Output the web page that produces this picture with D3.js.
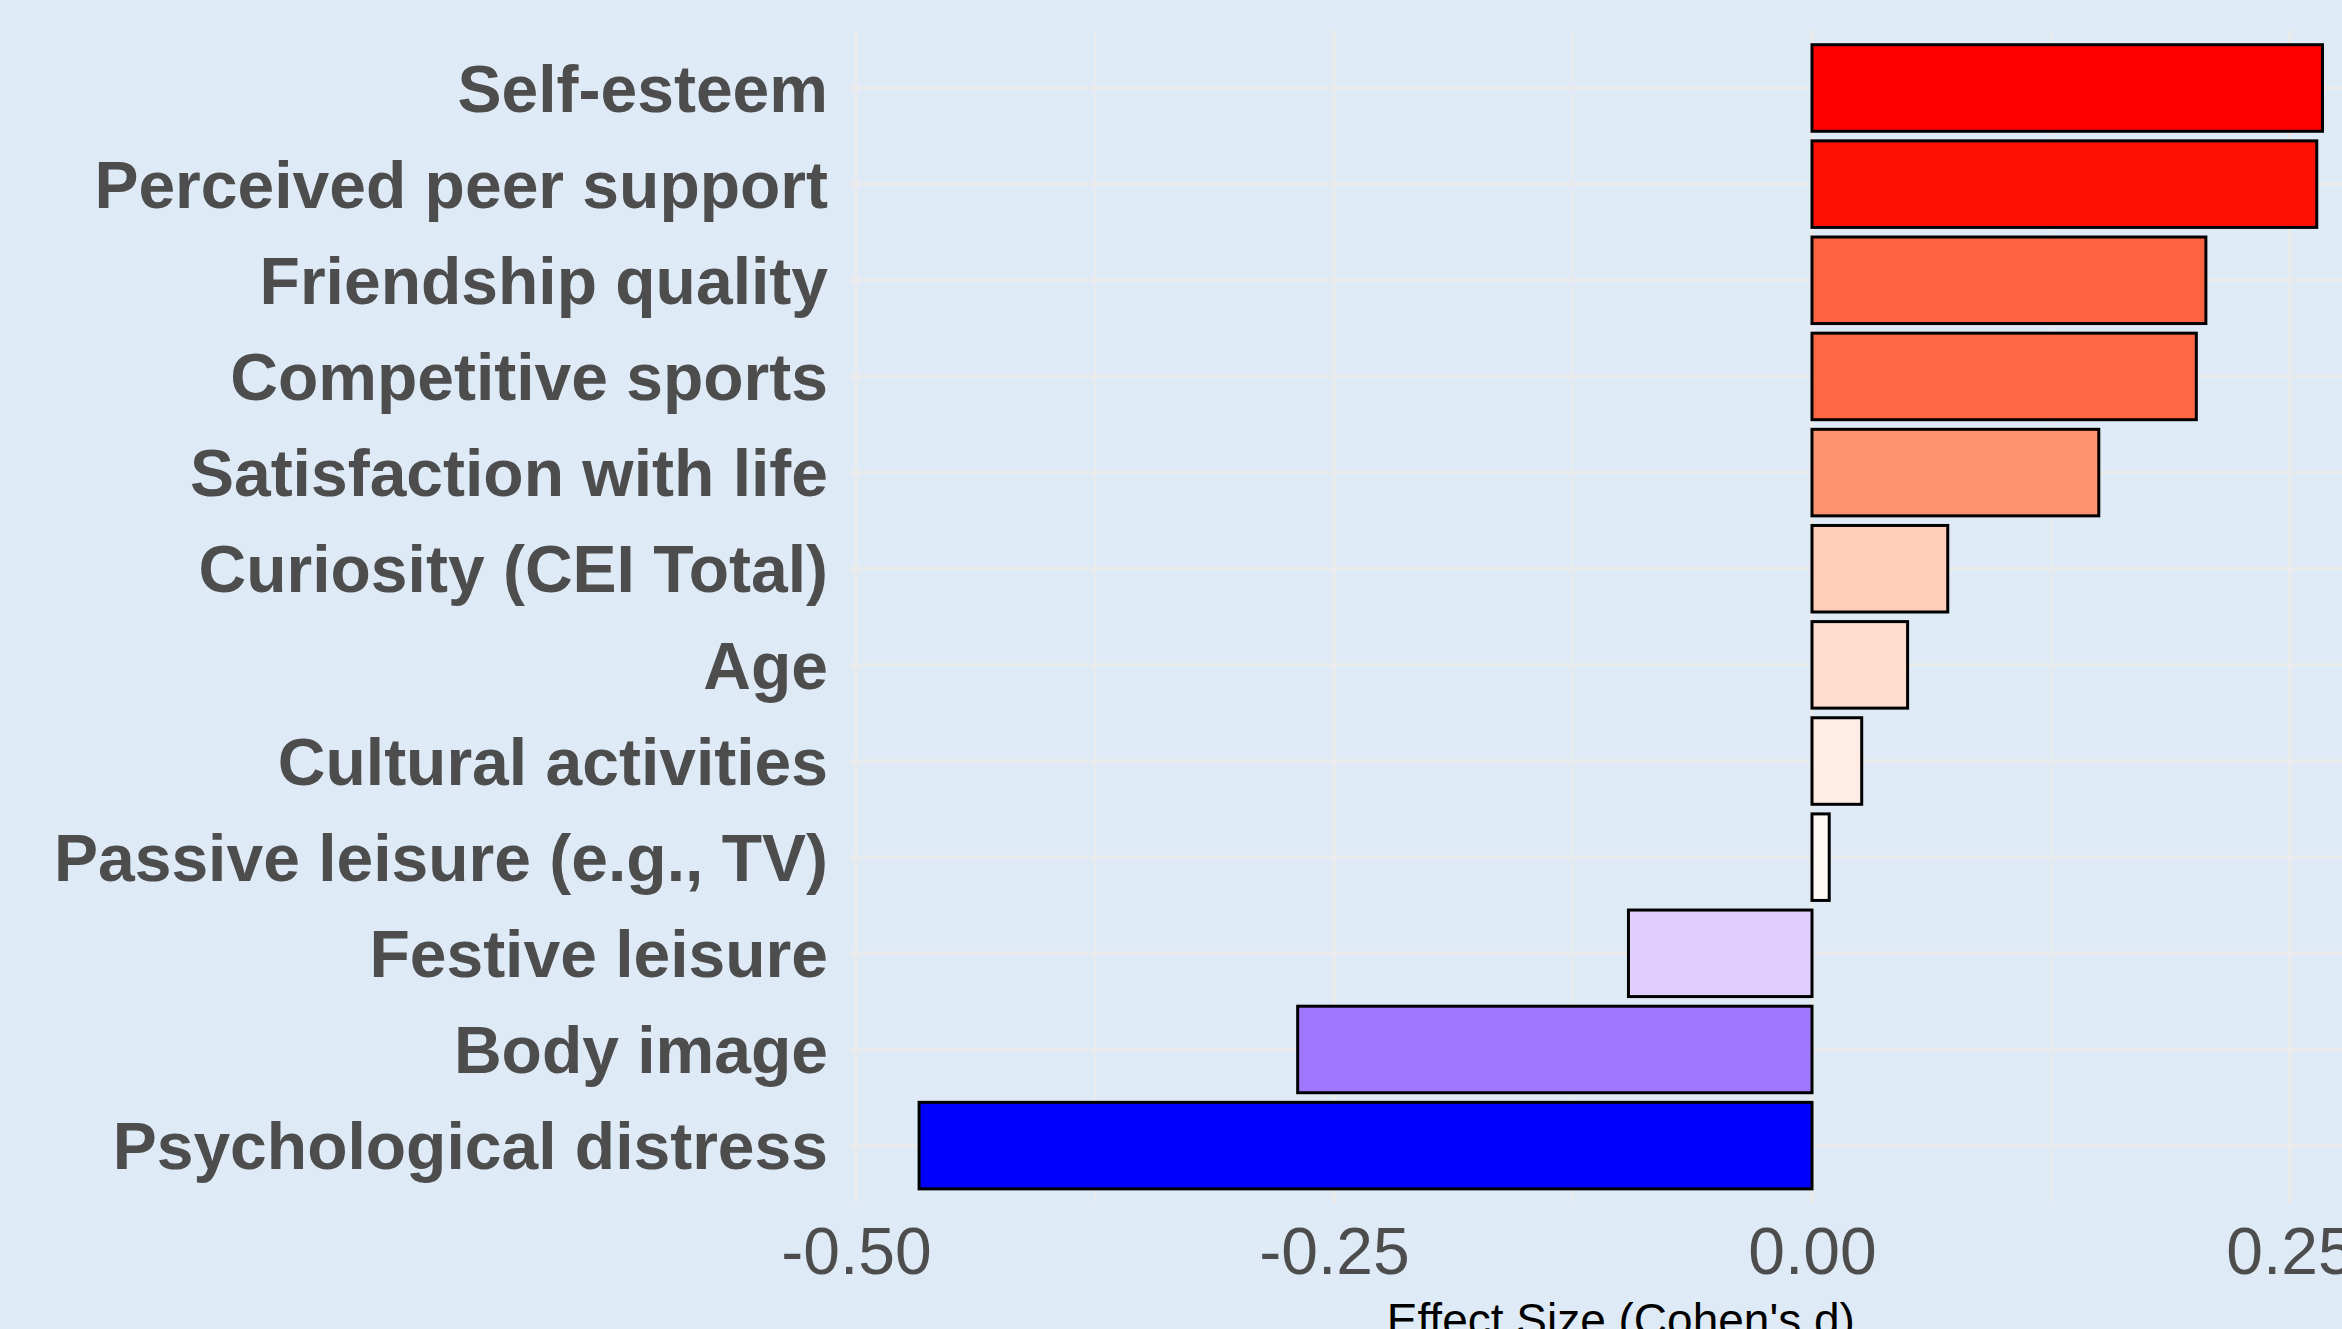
<!DOCTYPE html>
<html>
<head>
<meta charset="utf-8">
<script src="https://cdn.jsdelivr.net/npm/d3@7"></script>
<style>
  html, body { margin: 0; padding: 0; background: #DEEAF6; overflow: hidden; }
  svg { display: block; }
</style>
</head>
<body>
<svg id="chart" width="2342" height="1329"></svg>
<script>
// ---- data ----
const categories = [
  "Self-esteem",
  "Perceived peer support",
  "Friendship quality",
  "Competitive sports",
  "Satisfaction with life",
  "Curiosity (CEI Total)",
  "Age",
  "Cultural activities",
  "Passive leisure (e.g., TV)",
  "Festive leisure",
  "Body image",
  "Psychological distress"
];
const effectSizes = [0.267, 0.264, 0.206, 0.201, 0.150, 0.071, 0.050, 0.026, 0.009, -0.096, -0.269, -0.467];
const majorTicks = [-0.50, -0.25, 0.00, 0.25];
const minorTicks = [-0.375, -0.125, 0.125];
const xTitle = "Effect Size (Cohen's d)";

// ---- layout ----
const W = 2342, H = 1329;
const svg = d3.select("#chart");
svg.append("rect").attr("width", W).attr("height", H).attr("fill", "#DEEAF6");

const x = d3.scaleLinear().domain([-0.5, 0.25]).range([856, 2290]);
const dMin = d3.min(effectSizes), dMax = d3.max(effectSizes);
const pad = (dMax - dMin) * 0.05;
const panelLeft = x(dMin - pad), panelRight = x(dMax + pad);
const panelTop = 30.3, panelBottom = 1203.3;

const y = d3.scaleBand().domain(categories)
  .range([panelTop, panelBottom]).paddingInner(0.1).paddingOuter(0.15);

const color = d3.scaleLinear().domain([dMin, 0, dMax])
  .range(["blue", "white", "red"]).interpolate(d3.interpolateLab);

const grid = svg.append("g");
grid.selectAll("line.h").data(categories).enter().append("line")
  .attr("x1", panelLeft).attr("x2", panelRight)
  .attr("y1", d => y(d) + y.bandwidth() / 2).attr("y2", d => y(d) + y.bandwidth() / 2)
  .attr("stroke", "#EBEBEB").attr("stroke-width", 3.4);
grid.selectAll("line.vm").data(minorTicks).enter().append("line")
  .attr("x1", d => x(d)).attr("x2", d => x(d))
  .attr("y1", panelTop).attr("y2", panelBottom)
  .attr("stroke", "#EBEBEB").attr("stroke-width", 1.8);
grid.selectAll("line.vM").data(majorTicks).enter().append("line")
  .attr("x1", d => x(d)).attr("x2", d => x(d))
  .attr("y1", panelTop).attr("y2", panelBottom)
  .attr("stroke", "#EBEBEB").attr("stroke-width", 3.4);

// bars
svg.append("g").selectAll("rect").data(categories).enter().append("rect")
  .attr("x", (d, i) => Math.min(x(0), x(effectSizes[i])))
  .attr("width", (d, i) => Math.abs(x(effectSizes[i]) - x(0)))
  .attr("y", d => y(d))
  .attr("height", y.bandwidth())
  .attr("fill", (d, i) => color(effectSizes[i]))
  .attr("stroke", "#000").attr("stroke-width", 3);

// y axis labels
const yAxis = svg.append("g").attr("transform", "translate(828,0)")
  .call(d3.axisLeft(y).tickSize(0).tickPadding(0));
yAxis.select(".domain").remove();
yAxis.selectAll("text")
  .attr("font-family", "'Liberation Sans', Arial, sans-serif")
  .attr("font-weight", "bold")
  .attr("font-size", 66)
  .attr("fill", "#4D4D4D")
  .attr("dy", "0.36em");

// x axis labels
const xAxis = svg.append("g").attr("transform", "translate(0,1203)")
  .call(d3.axisBottom(x).tickValues(majorTicks).tickSize(0).tickFormat(d => d.toFixed(2)));
xAxis.select(".domain").remove();
xAxis.selectAll("text")
  .attr("font-family", "'Liberation Sans', Arial, sans-serif")
  .attr("font-size", 66)
  .attr("fill", "#4D4D4D")
  .attr("y", 71).attr("dy", 0);

// x title
svg.append("text")
  .attr("x", (panelLeft + panelRight) / 2).attr("y", 1336)
  .attr("text-anchor", "middle")
  .attr("font-family", "'Liberation Sans', Arial, sans-serif")
  .attr("font-size", 46)
  .attr("fill", "#000")
  .text(xTitle);
</script>
</body>
</html>
